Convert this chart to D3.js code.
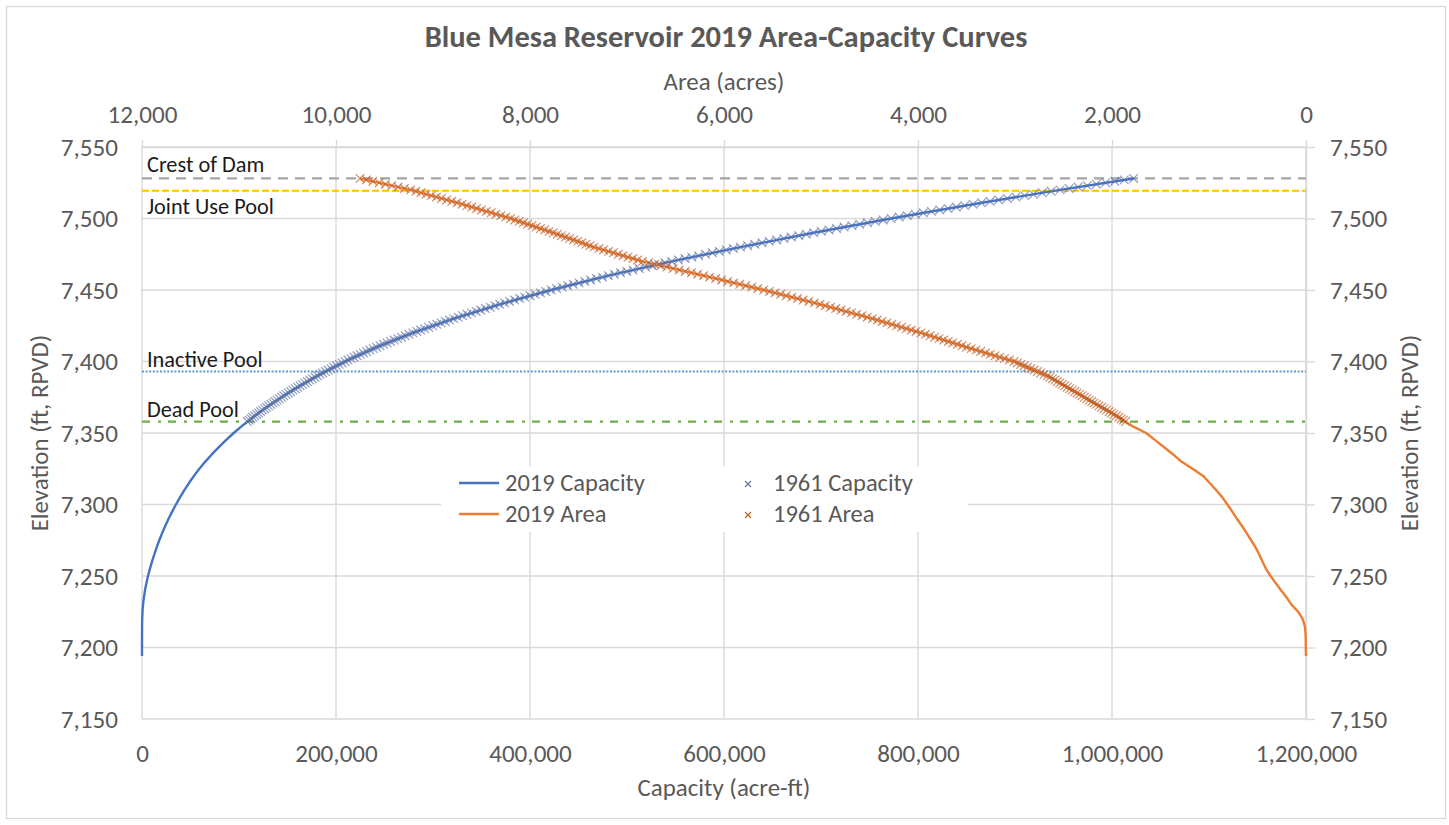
<!DOCTYPE html>
<html><head><meta charset="utf-8">
<script src="https://cdn.jsdelivr.net/npm/d3@7"></script>
<style>html,body{margin:0;padding:0;background:#fff}svg{display:block}</style>
</head><body>
<svg id="chart" width="1449" height="825"></svg>
<script>
// ---------------- DATA ----------------
const capTicks  = [0, 200000, 400000, 600000, 800000, 1000000, 1200000];
const areaTicks = [12000, 10000, 8000, 6000, 4000, 2000, 0];
const elevTicks = [7150, 7200, 7250, 7300, 7350, 7400, 7450, 7500, 7550];

const elev2019 = [7194,7196,7200,7205,7210,7215,7220,7225,7230,7235,7240,7245,7250,7255,7260,7265,7270,7275,7280,7285,7290,7295,7300,7305,7310,7315,7320,7325,7330,7335,7340,7345,7350,7355,7360,7365,7370,7380,7390,7400,7410,7420,7430,7440,7450,7460,7470,7480,7490,7500,7510,7520,7528];
const capacity2019 = [0,2,8,20,40,82,200,490,1060,1940,3080,4510,6200,8140,10290,12620,15120,17840,20780,23960,27390,31070,35000,39170,43640,48440,53570,59150,65280,71920,79000,86540,94550,103160,112410,122250,132720,155570,180950,209320,241870,279220,321420,368820,421820,480820,546070,616970,692470,772270,856770,946420,1022350];
const area2019 = [0,1,2,3,5,12,35,80,150,200,258,312,365,412,448,482,520,565,612,660,712,760,810,862,925,993,1060,1170,1285,1370,1462,1555,1648,1795,1905,2030,2160,2410,2665,3010,3500,3970,4470,5010,5590,6210,6840,7340,7760,8200,8700,9230,9752];

const elev1961 = [
7358,7359,7360,7361,7362,7363,7364,7365,7366,7367,7368,7369,7370,7371,7372,7373,7374,7375,7376,7377,
7378,7379,7380,7381,7382,7383,7384,7385,7386,7387,7388,7389,7390,7391,7392,7393,7394,7395,7396,7397,
7398,7399,7400,7401,7402,7403,7404,7405,7406,7407,7408,7409,7410,7411,7412,7413,7414,7415,7416,7417,
7418,7419,7420,7421,7422,7423,7424,7425,7426,7427,7428,7429,7430,7431,7432,7433,7434,7435,7436,7437,
7438,7439,7440,7441,7442,7443,7444,7445,7446,7447,7448,7449,7450,7451,7452,7453,7454,7455,7456,7457,
7458,7459,7460,7461,7462,7463,7464,7465,7466,7467,7468,7469,7470,7471,7472,7473,7474,7475,7476,7477,
7478,7479,7480,7481,7482,7483,7484,7485,7486,7487,7488,7489,7490,7491,7492,7493,7494,7495,7496,7497,
7498,7499,7500,7501,7502,7503,7504,7505,7506,7507,7508,7509,7510,7511,7512,7513,7514,7515,7516,7517,
7518,7519,7520,7521,7522,7523,7524,7525,7526,7527,7528];
const capacity1961 = [
108640,110520,112410,114340,116270,118250,120230,122260,124290,126370,128450,130580,132720,134900,137090,139320,141560,143840,146130,148460,
150800,153180,155570,158000,160440,162920,165410,167950,170490,173080,175670,178310,180950,183650,186350,189120,191890,194720,197560,200460,
203370,206340,209320,212380,215440,218590,221750,225000,228260,231610,234970,238420,241870,245410,248960,252600,256240,259970,263710,267540,
271370,275290,279220,283240,287260,291380,295500,299720,303940,308260,312580,317000,321420,325940,330470,335100,339730,344470,349210,354060,
358910,363860,368820,373890,378960,384140,389330,394630,399930,405340,410760,416290,421820,427470,433130,438900,444680,450580,456480,462500,
468530,474680,480830,487100,493370,499770,506170,512690,519220,525870,532520,539290,546070,552960,559850,566840,573830,580920,588010,595200,
602390,609680,616970,624350,631730,639200,646670,654220,661770,669400,677030,684750,692470,700270,708080,715970,723860,731840,739820,747890,
755960,764110,772270,780520,788770,797120,805470,813920,822370,830920,839470,848120,856770,865520,874280,883140,892000,900960,909930,919000,
928070,937240,946420,955710,965010,974430,983860,993410,1002970,1012650,1022340];
const area1961 = [
1861,1883,1905,1930,1955,1980,2005,2030,2056,2082,2108,2134,2160,2185,2210,2235,2260,2285,2310,2335,
2360,2385,2410,2436,2461,2487,2512,2538,2563,2589,2614,2640,2665,2700,2734,2769,2803,2838,2872,2907,
2941,2976,3010,3059,3108,3157,3206,3255,3304,3353,3402,3451,3500,3547,3594,3641,3688,3735,3782,3829,
3876,3923,3970,4020,4070,4120,4170,4220,4270,4320,4370,4420,4470,4524,4578,4632,4686,4740,4794,4848,
4902,4956,5010,5068,5126,5184,5242,5300,5358,5416,5474,5532,5590,5652,5714,5776,5838,5900,5962,6024,
6086,6148,6210,6273,6336,6399,6462,6525,6588,6651,6714,6777,6840,6890,6940,6990,7040,7090,7140,7190,
7240,7290,7340,7382,7424,7466,7508,7550,7592,7634,7676,7718,7760,7804,7848,7892,7936,7980,8024,8068,
8112,8156,8200,8250,8300,8350,8400,8450,8500,8550,8600,8650,8700,8753,8806,8859,8912,8965,9018,9071,
9124,9177,9230,9295,9360,9425,9490,9555,9620,9686,9752];

const refNames = ["Crest of Dam", "Joint Use Pool", "Inactive Pool", "Dead Pool"];
const refElev  = [7528, 7519.4, 7393, 7358];

const legendNames = ["2019 Capacity", "2019 Area", "1961 Capacity", "1961 Area"];

const titleText = "Blue Mesa Reservoir 2019 Area-Capacity Curves";
const xTitle = "Capacity (acre-ft)";
const x2Title = "Area (acres)";
const yTitle = "Elevation (ft, RPVD)";

// ---------------- STYLE / LAYOUT ----------------
const FONT = "Carlito, Calibri, Lato, 'Open Sans', sans-serif";
const GREY_TXT = "#595959";
const GRID = "#D9D9D9";
const C_CAP = "#4472C4", C_AREA = "#ED7D31";
const C_CAP61 = "#5E74A6", C_AREA61 = "#C0602A";
const refStyles = [
  {color:"#A5A5A5", dash:"10,7", w:2.2, dy:-6},
  {color:"#FFC000", dash:"7,3", w:2.2, dy:23},
  {color:"#5B9BD5", dash:"2,1.6", w:2, dy:-5},
  {color:"#70AD47", dash:"8,8,3,7", w:2.2, dy:-5}
];
const P = {left:142, right:1306, top:147, bottom:719};

const svg = d3.select("#chart");

function fit(str, target, weight) {
  const t = svg.append("text").attr("font-family", FONT).attr("font-size", 100)
    .attr("font-weight", weight || "normal").text(str);
  const w = t.node().getComputedTextLength();
  t.remove();
  return 100 * target / w;
}
const fsTick  = fit("12,000", 70);
const fsTitle = fit(titleText, 603, "bold");
const fsAxisT = fit(xTitle, 173);
const fsLeg   = fit("2019 Capacity", 140);
const fsRef   = fit("Joint Use Pool", 127);

// border
svg.append("rect").attr("x", 6.5).attr("y", 6.5).attr("width", 1439).attr("height", 812)
  .attr("fill", "#fff").attr("stroke", GRID).attr("stroke-width", 1.3);

// scales
const x  = d3.scaleLinear().domain([0, 1200000]).range([P.left, P.right]);
const xa = d3.scaleLinear().domain([12000, 0]).range([P.left, P.right]);
const y  = d3.scaleLinear().domain([7150, 7550]).range([P.bottom, P.top]);

// gridlines
const grid = svg.append("g");
grid.selectAll(".h").data(elevTicks).join("line")
  .attr("x1", P.left).attr("x2", P.right).attr("y1", d => y(d)).attr("y2", d => y(d))
  .attr("stroke", GRID).attr("stroke-width", 1.4);
grid.selectAll(".v").data(capTicks).join("line")
  .attr("y1", P.top).attr("y2", P.bottom).attr("x1", d => x(d)).attr("x2", d => x(d))
  .attr("stroke", GRID).attr("stroke-width", 1.4);

function styleAxis(g) {
  g.selectAll("path.domain").attr("stroke", GRID).attr("stroke-width", 1.4);
  g.selectAll(".tick line").attr("stroke", GRID).attr("stroke-width", 1.4);
  g.selectAll(".tick text").attr("fill", GREY_TXT).attr("font-family", FONT).attr("font-size", fsTick);
}
const fmt = d3.format(",");
svg.append("g").attr("transform", `translate(${P.left},0)`)
  .call(d3.axisLeft(y).tickValues(elevTicks).tickFormat(fmt).tickSize(0).tickPadding(24))
  .call(styleAxis).call(g => g.select(".domain").remove());
svg.append("g").attr("transform", `translate(${P.right},0)`)
  .call(d3.axisRight(y).tickValues(elevTicks).tickFormat(fmt).tickSizeInner(9).tickSizeOuter(0).tickPadding(15))
  .call(styleAxis);
svg.append("g").attr("transform", `translate(0,${P.bottom})`)
  .call(d3.axisBottom(x).tickValues(capTicks).tickFormat(fmt).tickSize(0).tickPadding(43 - 0.71 * fsTick))
  .call(styleAxis).call(g => g.select(".domain").remove());
svg.append("g").attr("transform", `translate(0,${P.top})`)
  .call(d3.axisTop(xa).tickValues(areaTicks).tickFormat(fmt).tickSizeInner(7).tickSizeOuter(0).tickPadding(17))
  .call(styleAxis);

// titles
svg.append("text").attr("x", 726).attr("y", 47).attr("text-anchor", "middle")
  .attr("font-family", FONT).attr("font-weight", "bold").attr("font-size", fsTitle)
  .attr("fill", GREY_TXT).text(titleText);
svg.append("text").attr("x", 724).attr("y", 90).attr("text-anchor", "middle")
  .attr("font-family", FONT).attr("font-size", fsAxisT).attr("fill", GREY_TXT).text(x2Title);
svg.append("text").attr("x", 724).attr("y", 796).attr("text-anchor", "middle")
  .attr("font-family", FONT).attr("font-size", fsAxisT).attr("fill", GREY_TXT).text(xTitle);
[48, 1418].forEach(cx => {
  svg.append("text").attr("transform", `translate(${cx},${(P.top + P.bottom) / 2}) rotate(-90)`)
    .attr("text-anchor", "middle").attr("font-family", FONT).attr("font-size", fsAxisT)
    .attr("fill", GREY_TXT).text(yTitle);
});

// reference lines
const refs = refNames.map((n, i) => ({name: n, elev: refElev[i], st: refStyles[i]}));
svg.append("g").selectAll("line").data(refs).join("line")
  .attr("x1", P.left).attr("x2", P.right).attr("y1", d => y(d.elev)).attr("y2", d => y(d.elev))
  .attr("stroke", d => d.st.color).attr("stroke-width", d => d.st.w).attr("stroke-dasharray", d => d.st.dash);
svg.append("g").selectAll("text").data(refs).join("text")
  .attr("x", 147).attr("y", d => y(d.elev) + d.st.dy)
  .attr("font-family", FONT).attr("font-size", fsRef).attr("fill", "#1a1a1a").text(d => d.name);

// legend background
svg.append("rect").attr("x", 441).attr("y", 466).attr("width", 527).attr("height", 66).attr("fill", "#fff");

// 2019 lines
const d2019 = elev2019.map((e, i) => ({e, c: capacity2019[i], a: area2019[i]}));
const d1961 = elev1961.map((e, i) => ({e, c: capacity1961[i], a: area1961[i]}));
svg.append("path").datum(d2019).attr("fill", "none").attr("stroke", C_CAP).attr("stroke-width", 2.4)
  .attr("stroke-linejoin", "round")
  .attr("d", d3.line().x(d => x(d.c)).y(d => y(d.e)));
svg.append("path").datum(d2019).attr("fill", "none").attr("stroke", C_AREA).attr("stroke-width", 2.4)
  .attr("stroke-linejoin", "round")
  .attr("d", d3.line().x(d => xa(d.a)).y(d => y(d.e)));

// 1961 markers
const XM = r => `M${-r},${-r}L${r},${r}M${-r},${r}L${r},${-r}`;
svg.append("g").selectAll("path").data(d1961).join("path")
  .attr("transform", d => `translate(${x(d.c)},${y(d.e)})`).attr("d", XM(4.3))
  .attr("fill", "none").attr("stroke", C_CAP61).attr("stroke-width", 1.2).attr("stroke-opacity", 0.7);
svg.append("g").selectAll("path").data(d1961).join("path")
  .attr("transform", d => `translate(${xa(d.a)},${y(d.e)})`).attr("d", XM(4.3))
  .attr("fill", "none").attr("stroke", C_AREA61).attr("stroke-width", 1.2).attr("stroke-opacity", 0.7);

// legend
const leg = svg.append("g").attr("font-family", FONT).attr("font-size", fsLeg).attr("fill", GREY_TXT);
const rowsY = [483, 514];
[[C_CAP, legendNames[0]], [C_AREA, legendNames[1]]].forEach((it, i) => {
  leg.append("line").attr("x1", 459).attr("x2", 499).attr("y1", rowsY[i]).attr("y2", rowsY[i])
    .attr("stroke", it[0]).attr("stroke-width", 2.4);
  leg.append("text").attr("x", 505).attr("y", rowsY[i]).attr("dy", "0.34em").text(it[1]);
});
[[C_CAP61, legendNames[2]], [C_AREA61, legendNames[3]]].forEach((it, i) => {
  leg.append("path").attr("transform", `translate(748,${rowsY[i] + 1})`).attr("d", XM(3))
    .attr("fill", "none").attr("stroke", it[0]).attr("stroke-width", 1.2);
  leg.append("text").attr("x", 773).attr("y", rowsY[i]).attr("dy", "0.34em").text(it[1]);
});
</script>
</body></html>
